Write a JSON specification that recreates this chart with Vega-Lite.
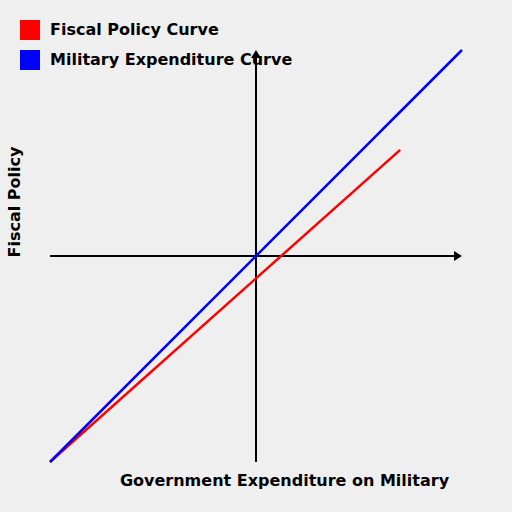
{
  "$schema": "https://vega.github.io/schema/vega-lite/v6.json",
  "description": "Fiscal policy vs military expenditure curves",
  "width": 412,
  "height": 412,
  "autosize": {"type": "none"},
  "padding": {"left": 50, "top": 50, "right": 50, "bottom": 50},
  "background": "#efefef",
  "config": {
    "view": {"stroke": null},
    "font": "DejaVu Sans"
  },
  "datasets": {
    "curves": [
      {"series": "Fiscal Policy Curve", "x": -100, "y": -100},
      {"series": "Fiscal Policy Curve", "x": 70, "y": 51.5},
      {"series": "Military Expenditure Curve", "x": -100, "y": -100},
      {"series": "Military Expenditure Curve", "x": 100, "y": 100}
    ],
    "axes": [
      {"x": -100, "y": 0, "x2": 97, "y2": 0},
      {"x": 0, "y": -100, "x2": 0, "y2": 97}
    ],
    "arrows": [
      {"dir": "right", "x": 100, "y": 0},
      {"dir": "up", "x": 0, "y": 100}
    ]
  },
  "layer": [
    {
      "data": {"name": "axes"},
      "mark": {"type": "rule", "color": "black", "strokeWidth": 2},
      "encoding": {
        "x": {"field": "x", "type": "quantitative", "scale": {"domain": [-100, 100], "nice": false, "zero": false}},
        "y": {"field": "y", "type": "quantitative", "scale": {"domain": [-100, 100], "nice": false, "zero": false}},
        "x2": {"field": "x2"},
        "y2": {"field": "y2"}
      }
    },
    {
      "data": {"name": "arrows"},
      "mark": {"type": "point", "filled": true, "color": "black", "opacity": 1, "size": 400, "strokeWidth": 0},
      "encoding": {
        "x": {"field": "x", "type": "quantitative"},
        "y": {"field": "y", "type": "quantitative"},
        "shape": {
          "field": "dir",
          "type": "nominal",
          "scale": {"domain": ["right", "up"], "range": ["M0,0L-0.8,-0.5L-0.8,0.5Z", "M0,0L-0.5,0.8L0.5,0.8Z"]},
          "legend": null
        }
      }
    },
    {
      "data": {"name": "curves"},
      "mark": {"type": "line", "strokeWidth": 2.5},
      "encoding": {
        "x": {
          "field": "x",
          "type": "quantitative",
          "axis": {
            "domain": false, "ticks": false, "labels": false, "grid": false,
            "title": "Government Expenditure on Military",
            "titleFont": "DejaVu Sans", "titleFontSize": 16, "titleFontWeight": "bold",
            "titleColor": "black", "titleAlign": "center", "titleBaseline": "alphabetic",
            "titleX": 234, "titleY": 23
          }
        },
        "y": {
          "field": "y",
          "type": "quantitative",
          "axis": {
            "domain": false, "ticks": false, "labels": false, "grid": false,
            "title": "Fiscal Policy",
            "titleFont": "DejaVu Sans", "titleFontSize": 16, "titleFontWeight": "bold",
            "titleColor": "black", "titleAlign": "center", "titleBaseline": "alphabetic",
            "titleAngle": -90, "titleX": -31, "titleY": 151.5
          }
        },
        "color": {
          "field": "series",
          "type": "nominal",
          "scale": {"domain": ["Fiscal Policy Curve", "Military Expenditure Curve"], "range": ["#ff0000", "#0000ff"]},
          "legend": {
            "orient": "none",
            "legendX": -30,
            "legendY": -30,
            "title": null,
            "symbolType": "square",
            "symbolSize": 400,
            "symbolOpacity": 1,
            "labelFont": "DejaVu Sans",
            "labelFontSize": 16,
            "labelFontWeight": "bold",
            "labelColor": "black",
            "labelLimit": 400,
            "labelOffset": 10,
            "rowPadding": 10,
            "padding": 0,
            "encode": {
              "symbols": {
                "update": {
                  "fill": {"scale": "color", "field": "value"},
                  "stroke": {"value": "transparent"},
                  "strokeWidth": {"value": 0}
                }
              }
            }
          }
        }
      }
    }
  ]
}
